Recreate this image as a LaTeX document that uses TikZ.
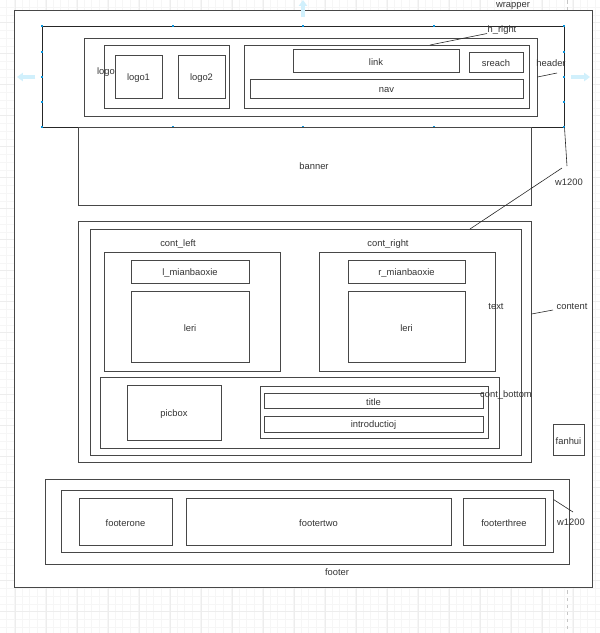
\documentclass[tikz,border=0pt]{standalone}
\usepackage{fontspec}
\setmainfont{Liberation Sans}
\usetikzlibrary{arrows.meta,calc,positioning,fit}

\begin{document}
\begin{tikzpicture}[x=0.03cm,y=-0.03cm,
  box/.style={draw=black!72,line width=0.85pt,fill=white,inner sep=0pt},
  lab/.style={text=black!80,font=\fontsize{8}{9.6}\selectfont,inner sep=1pt},
  inlab/.style={lab,yshift=-1.2pt},
  lead/.style={draw=black!85,line width=0.5pt},
  handle/.style={fill=cyan!80!blue,inner sep=0pt,minimum size=2.5pt},
  mover/.style={draw=cyan!18,line width=3pt,-{Triangle[width=7pt,length=5pt]}}]
\useasboundingbox (0,0) rectangle (600,633);
% page grid
\foreach \g in {6.25,14,...,600}{\draw[gray!7,line width=0.3pt] (\g,0) -- (\g,633);}
\foreach \g in {7.05,14.8,...,633}{\draw[gray!7,line width=0.3pt] (0,\g) -- (600,\g);}
\foreach \g in {14.7,45.7,...,600}{\draw[gray!14,line width=0.3pt] (\g,0) -- (\g,633);}
\foreach \g in {22.55,53.55,...,633}{\draw[gray!14,line width=0.3pt] (0,\g) -- (600,\g);}
\draw[gray!45,dashed,line width=0.3pt] (567,0) -- (567,633);
% wrapper
\node[box,fit={(14,10) (592,587)}] (wrapper) {};
\node[lab,anchor=base] (wrapperlab) at (513,7) {wrapper};
% header
\node[box,draw=black!85,fit={(42,26) (564,127)}] (header) {};
\node[box,fit={(84,38) (537,116)}] (hinner) {};
\node[box,fit={(104,45) (229,108)}] (logo) {};
\node[lab] (logolab) at (106,72) {logo};
\node[box,fit={(115,55) (162,98)},label={[inlab]center:logo1}] (logo1) {};
\node[box,fit={(178,55) (225,98)},label={[inlab]center:logo2}] (logo2) {};
\node[box,fit={(244,45) (529,108)}] (hright) {};
\node[box,fit={(293,49) (459,72)},label={[inlab]center:link}] (link) {};
\node[box,fit={(469,52) (523,72)},label={[inlab]center:sreach}] (sreach) {};
\node[box,fit={(250,79) (523,98)},label={[inlab]center:nav}] (nav) {};
\node[lab] (hrightlab) at (502,30) {h\_right};
\node[lab] (headerlab) at (551,63) {header};
\coordinate (hr) at (430,45);
\coordinate (hd) at (557,73);
\draw[lead] (hr) -- (487,33.5);
\draw[lead] (hinner.east) -- (hd);
% selection handles on header
\foreach \x in {42,173,303,434,564}{
  \node[handle] at (\x,26) {};
  \node[handle] at (\x,127) {};
}
\foreach \y in {52,77,102}{
  \node[handle] at (42,\y) {};
  \node[handle] at (564,\y) {};
}
\draw[mover] (35,77) -- (17,77);
\draw[mover] (571,77) -- (590,77);
\draw[mover] (303,17) -- (303,0);
% banner
\node[box,fit={(78,127) (531,205)}] (banner) {};
\node[lab] (bannerlab) at (314,166) {banner};
% content
\node[box,fit={(78,221) (531,462)}] (content) {};
\node[box,fit={(90,229) (521,455)}] (cinner) {};
\node[box,fit={(104,252) (280,371)}] (contleft) {};
\node[lab] (contleftlab) at (178,244) {cont\_left};
\node[box,fit={(131,260) (249,283)},label={[inlab]center:l\_mianbaoxie}] (lmian) {};
\node[box,fit={(131,291) (249,362)},label={[inlab]center:leri}] (lleri) {};
\node[box,fit={(319,252) (495,371)}] (contright) {};
\node[lab] (contrightlab) at (388,244) {cont\_right};
\node[box,fit={(348,260) (465,283)},label={[inlab]center:r\_mianbaoxie}] (rmian) {};
\node[box,fit={(348,291) (465,362)},label={[inlab]center:leri}] (rleri) {};
\node[lab] (textlab) at (496,307) {text};
\node[box,fit={(100,377) (499,448)}] (contbottom) {};
\node[box,fit={(127,385) (221,440)},label={[inlab]center:picbox}] (picbox) {};
\node[box,fit={(260,386) (488,438)}] (txtbox) {};
\node[box,fit={(264,393) (483,408)},label={[inlab]center:title}] (title) {};
\node[box,fit={(264,416) (483,432)},label={[inlab]center:introductioj}] (intro) {};
\node[lab] (contbottomlab) at (506,395) {cont\_bottom};
\node[lab] (contentlab) at (572,307) {content};
\coordinate (ct) at (553,310);
\draw[lead] (content.east |- 0,314) -- (ct);
% w1200 leaders
\node[lab] (wlab) at (569,182) {w1200};
\coordinate (wa) at (567,166);
\coordinate (wb) at (562,168);
\coordinate (wc) at (470,229);
\draw[lead] (header.south east) -- (wa);
\draw[lead] (wb) -- (wc);
\node[box,fit={(553,424) (584,455)},label={[inlab]center:fanhui}] (fanhui) {};
% footer
\node[box,fit={(45,479) (569,564)}] (footer) {};
\node[lab] (footerlab) at (337,572) {footer};
\node[box,fit={(61,490) (553,552)}] (finner) {};
\node[box,fit={(79,498) (172,545)},label={[inlab]center:footerone}] (footerone) {};
\node[box,fit={(186,498) (451,545)},label={[inlab]center:footertwo}] (footertwo) {};
\node[box,fit={(463,498) (545,545)},label={[inlab]center:footerthree}] (footerthree) {};
\node[lab] (fwlab) at (571,522) {w1200};
\coordinate (fw) at (573,512);
\draw[lead] (finner.north east) ++(0,10) -- (fw);
\end{tikzpicture}
\end{document}
